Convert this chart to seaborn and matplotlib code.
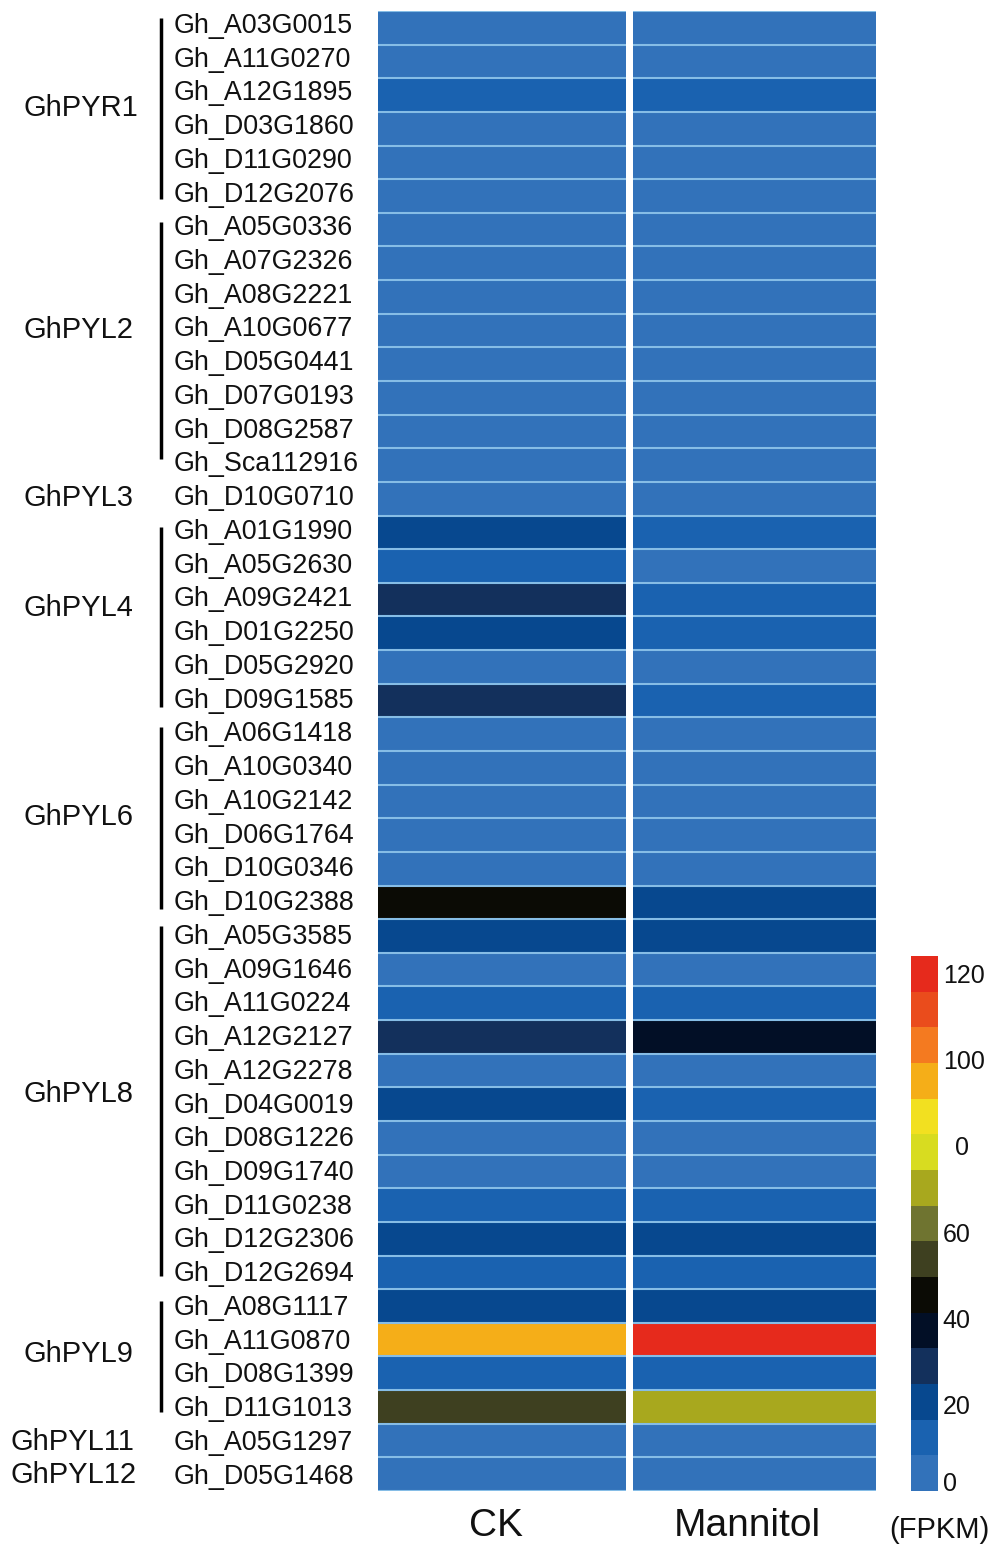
import matplotlib
matplotlib.use('Agg')
import numpy as np
import pandas as pd
import matplotlib.pyplot as plt
import matplotlib.transforms as mtrans
from matplotlib.colors import ListedColormap
import seaborn as sns

genes = ['Gh_A03G0015', 'Gh_A11G0270', 'Gh_A12G1895', 'Gh_D03G1860', 'Gh_D11G0290', 'Gh_D12G2076',
         'Gh_A05G0336', 'Gh_A07G2326', 'Gh_A08G2221', 'Gh_A10G0677', 'Gh_D05G0441', 'Gh_D07G0193',
         'Gh_D08G2587', 'Gh_Sca112916', 'Gh_D10G0710',
         'Gh_A01G1990', 'Gh_A05G2630', 'Gh_A09G2421', 'Gh_D01G2250', 'Gh_D05G2920', 'Gh_D09G1585',
         'Gh_A06G1418', 'Gh_A10G0340', 'Gh_A10G2142', 'Gh_D06G1764', 'Gh_D10G0346', 'Gh_D10G2388',
         'Gh_A05G3585', 'Gh_A09G1646', 'Gh_A11G0224', 'Gh_A12G2127', 'Gh_A12G2278', 'Gh_D04G0019',
         'Gh_D08G1226', 'Gh_D09G1740', 'Gh_D11G0238', 'Gh_D12G2306', 'Gh_D12G2694',
         'Gh_A08G1117', 'Gh_A11G0870', 'Gh_D08G1399', 'Gh_D11G1013', 'Gh_A05G1297', 'Gh_D05G1468']

ck = [4, 4, 12, 4, 4, 4,
      4, 4, 4, 4, 4, 4, 4, 4, 4,
      20, 12, 29, 21, 4, 29,
      4, 4, 4, 4, 4, 45,
      20, 4, 12, 29, 4, 21, 4, 4, 12, 20, 12,
      20, 95, 12, 53, 4, 4]
mannitol = [4, 4, 12, 4, 4, 4,
            4, 4, 4, 4, 4, 4, 4, 4, 4,
            12, 4, 12, 12, 4, 12,
            4, 4, 4, 4, 4, 20,
            20, 4, 12, 37, 4, 12, 4, 4, 12, 20, 12,
            20, 120, 12, 70, 4, 4]

palette = ['#3272ba', '#1a62b0', '#07488f', '#13305c', '#020f26', '#0b0b05', '#3e4020', '#6f7430',
           '#a8a81e', '#d8dc20', '#f2e020', '#f5ae18', '#f47a20', '#ea4c1c', '#e62a1c']

group_names = ['GhPYR1', 'GhPYL2', 'GhPYL3', 'GhPYL4', 'GhPYL6', 'GhPYL8', 'GhPYL9', 'GhPYL11', 'GhPYL12']
group_rows = [2.88, 9.48, 14.48, 17.76, 23.96, 32.2, 39.93, 42.53, 43.51]
group_left = [23.5, 23.5, 23.5, 23.5, 23.5, 23.5, 23.5, 10, 10]
bracket_start = [0.2, 6.27, 15.34, 21.3, 27.2, 38.35]
bracket_end = [5.6, 13.32, 20.7, 26.7, 37.6, 41.65]

cbar_ticks = [2.3, 20, 40, 60, 80, 100, 120]
cbar_labels = ['0', '20', '40', '60', '0', '100', '120']

W, H = 1000, 1558
VMAX = 124


def box(x0, x1, y0, y1):
    return [x0 / W, 1 - y1 / H, (x1 - x0) / W, (y1 - y0) / H]


def nudge(label, dx_px, dy_px):
    # pixels at dpi 100, y up
    label.set_transform(label.get_transform() + mtrans.ScaledTranslation(dx_px / 100, dy_px / 100, fig.dpi_scale_trans))


sns.set_theme(style='white')
plt.rcParams['font.family'] = ['Liberation Sans', 'DejaVu Sans']

fig = plt.figure(figsize=(W / 100, H / 100), dpi=100)
ax1 = fig.add_axes(box(378, 626, 11, 1491))
ax2 = fig.add_axes(box(633, 876, 11, 1491))
cax = fig.add_axes(box(911, 938, 956, 1491))

cmap = ListedColormap(palette)
df1 = pd.DataFrame({'CK': ck}, index=genes)
df2 = pd.DataFrame({'Mannitol': mannitol}, index=genes)

sns.heatmap(df1, ax=ax1, cmap=cmap, vmin=0, vmax=VMAX, cbar=True, cbar_ax=cax, yticklabels=True)
sns.heatmap(df2, ax=ax2, cmap=cmap, vmin=0, vmax=VMAX, cbar=False, yticklabels=False)

for ax in (ax1, ax2):
    ax.hlines(np.arange(len(genes) + 1), 0, 1, color='#86bde6', lw=1.5)
    ax.tick_params(axis='both', length=0)
    ax.tick_params(axis='x', labelsize=28, pad=13, labelcolor='#111111')
    ax.set_xlabel('')
    ax.set_ylabel('')

nudge(ax1.get_xticklabels()[0], -6, 1)
nudge(ax2.get_xticklabels()[0], -7, 1)

ax1.tick_params(axis='y', labelsize=19.4, pad=147, labelcolor='#111111')
for i, lab in enumerate(ax1.get_yticklabels()):
    lab.set_ha('left')
    lab.set_rotation(0)
    nudge(lab, 0, 2 - 4.5 * i / (len(genes) - 1))

# gene family names and the bars beside them
to_axes = lambda px: (px - 378) / 248
trans = ax1.get_yaxis_transform()
for name, row, left in zip(group_names, group_rows, group_left):
    ax1.text(to_axes(left), row, name, transform=trans, ha='left', va='center',
             fontsize=21, color='#111111')
for y0, y1 in zip(bracket_start, bracket_end):
    ax1.plot([to_axes(161)] * 2, [y0, y1], transform=trans, color='black', lw=2.5,
             clip_on=False, solid_capstyle='butt')

cbar = ax1.collections[0].colorbar
cbar.outline.set_visible(False)
cbar.set_ticks(cbar_ticks)
cbar.set_ticklabels(cbar_labels)
cax.tick_params(axis='y', length=0, pad=3.5, labelsize=18, labelcolor='#111111')
# the mislabelled middle tick sits further right in the original
nudge(cax.get_yticklabels()[4], 12, 0)

fig.text(939 / W, 1 - 1530 / H, '(FPKM)', ha='center', va='center', fontsize=21, color='#111111')

fig.savefig('out.png', dpi=100)
